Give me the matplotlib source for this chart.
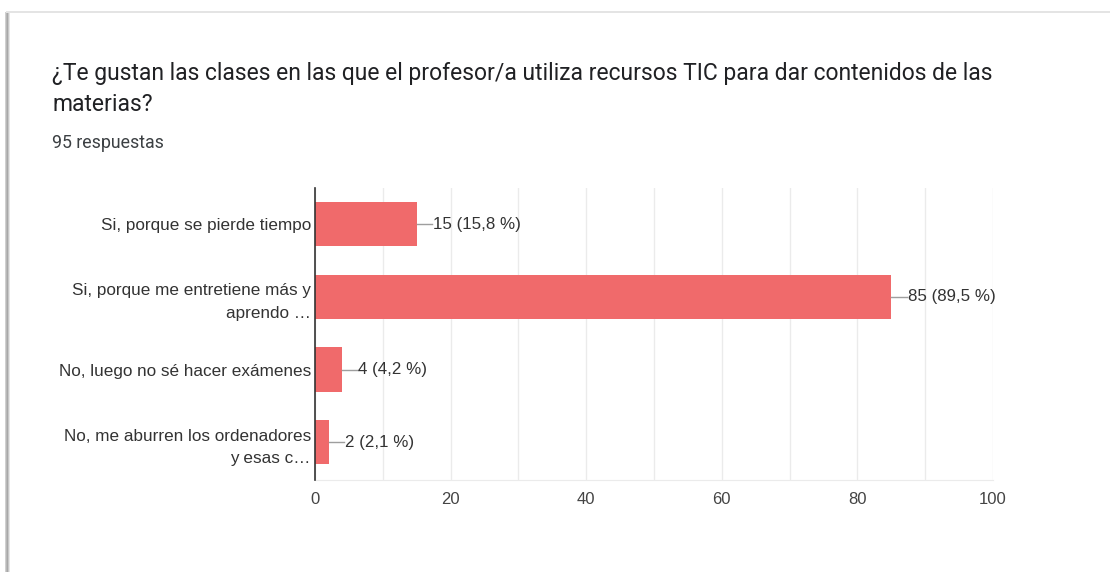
import matplotlib
matplotlib.use('Agg')
import matplotlib.pyplot as plt
from matplotlib.patches import Rectangle

plt.rcParams['font.family'] = ['Roboto', 'DejaVu Sans']
ARIAL = ['Liberation Sans', 'DejaVu Sans']

# data
categories = ['Si, porque se pierde tiempo',
              'Si, porque me entretiene más y\naprendo …',
              'No, luego no sé hacer exámenes',
              'No, me aburren los ordenadores\ny esas c…']
counts = [15, 85, 4, 2]
percents = ['15,8', '89,5', '4,2', '2,1']
xticks = [0, 20, 40, 60, 80, 100]

title = '¿Te gustan las clases en las que el profesor/a utiliza recursos TIC para dar contenidos de las\nmaterias?'
subtitle = '95 respuestas'

fig = plt.figure(figsize=(11.1, 5.72), dpi=100)
fig.patch.set_facecolor('white')

# card edges (shadow on left and top)
for i, c in enumerate(['#d0d0d0', '#b8b8b8', '#a8a8a8', '#c8c8c8', '#e6e6e6']):
    fig.add_artist(Rectangle((5 / 1110 + i / 1110, 0), 1 / 1110, 1 - 12 / 572,
                             transform=fig.transFigure, color=c, lw=0))
fig.add_artist(Rectangle((6 / 1110, 1 - 13 / 572), 1, 2 / 572,
                         transform=fig.transFigure, color='#e4e4e4', lw=0))

fig.text(52 / 1110, 1 - 62 / 572, title, fontsize=16.5, color='#202124',
         va='top', ha='left', linespacing=1.45)
fig.text(52 / 1110, 1 - 143 / 572, subtitle, fontsize=12.8, color='#3c4043',
         va='center', ha='left')

ax = fig.add_axes([315 / 1110, 92 / 572, 678 / 1110, 292 / 572])
y = list(range(len(categories)))
ax.barh(y, counts, height=0.61, color='#f06a6b', zorder=3)

for yi, v, p in zip(y, counts, percents):
    ax.plot([v, v + 2.3], [yi, yi], color='#9e9e9e', lw=1, zorder=3)
    ax.text(v + 2.4, yi, f'{v} ({p} %)', va='center', ha='left',
            fontsize=12.2, color='#333333', family=ARIAL)

ax.set_xlim(0, 100)
ax.set_ylim(3.52, -0.5)
ax.set_xticks(xticks)
ax.set_xticks(range(0, 101, 10), minor=True)
ax.set_xticklabels([str(t) for t in xticks], fontsize=12, color='#444444',
                   family=ARIAL)
ax.set_yticks(y)
ax.set_yticklabels(categories, fontsize=12.3, color='#333333',
                   linespacing=1.6, family=ARIAL)
ax.tick_params(axis='both', which='both', length=0)
ax.tick_params(axis='x', pad=9)
ax.tick_params(axis='y', pad=3)
ax.grid(axis='x', which='both', color='#ebebeb', lw=1, zorder=0)

for s in ['top', 'right']:
    ax.spines[s].set_visible(False)
ax.spines['bottom'].set_color('#ebebeb')
ax.spines['left'].set_color('#333333')
ax.spines['left'].set_linewidth(1.2)
ax.spines['left'].set_zorder(4)

fig.savefig('out.png', dpi=100, facecolor='white')
